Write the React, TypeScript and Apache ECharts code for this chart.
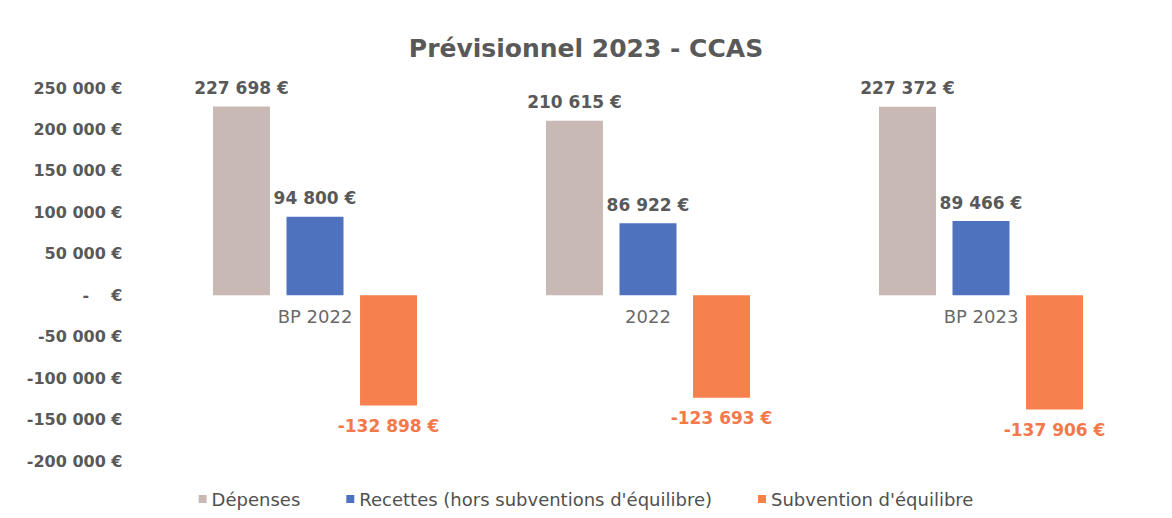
import React, { useEffect, useRef } from "react";
import * as echarts from "echarts";

const categories = ["BP 2022", "2022", "BP 2023"];
const depenses = [227698, 210615, 227372];
const recettes = [94800, 86922, 89466];
const subvention = [-132898, -123693, -137906];
const seriesNames = ["Dépenses", "Recettes (hors subventions d'équilibre)", "Subvention d'équilibre"];
const yMin = -200000;
const yMax = 250000;
const yInterval = 50000;

const fmt = (v: number) => {
  if (v === 0) return "-\u00a0\u00a0\u00a0\u00a0€";
  const neg = v < 0;
  const s = Math.abs(Math.round(v)).toString().replace(/\B(?=(\d{3})+(?!\d))/g, "\u00a0");
  return (neg ? "-" : "") + s + "\u00a0€";
};

const FONT = "'DejaVu Sans', Verdana, sans-serif";

export default function App() {
  const ref = useRef<HTMLDivElement>(null);
  useEffect(() => {
    if (!ref.current) return;
    const chart = echarts.init(ref.current, undefined, { renderer: "svg" });
    const labelGrey = {
      show: true,
      position: "top" as const,
      distance: 10,
      formatter: (p: any) => fmt(p.value),
      color: "#595959",
      fontFamily: FONT,
      fontWeight: "bold" as const,
      fontSize: 17,
    };
    chart.setOption({
      animation: false,
      textStyle: { fontFamily: FONT },
      title: {
        text: "Prévisionnel 2023 - CCAS",
        left: "center",
        top: 31,
        textStyle: { color: "#595959", fontSize: 25, fontWeight: "bold", fontFamily: FONT },
      },
      legend: {
        top: 485,
        left: "center",
        itemWidth: 8,
        itemHeight: 8,
        itemGap: 46,
        icon: "rect",
        textStyle: { color: "#505050", fontSize: 18, fontFamily: FONT },
        data: seriesNames,
      },
      grid: { left: 148.5, right: 24.5, top: 88, bottom: 57, containLabel: false },
      xAxis: {
        type: "category",
        data: categories,
        axisLine: { show: false },
        axisTick: { show: false },
        axisLabel: { show: false },
      },
      yAxis: {
        type: "value",
        min: yMin,
        max: yMax,
        interval: yInterval,
        axisLine: { show: false },
        axisTick: { show: false },
        splitLine: { show: false },
        axisLabel: {
          color: "#595959",
          fontSize: 16,
          fontWeight: "bold",
          margin: 26,
          fontFamily: FONT,
          formatter: (v: number) => fmt(v),
        },
      },
      series: [
        {
          name: seriesNames[0],
          type: "bar",
          data: depenses,
          barWidth: 57,
          barGap: "29%",
          itemStyle: { color: "#C9B9B4" },
          label: labelGrey,
        },
        {
          name: seriesNames[1],
          type: "bar",
          data: recettes,
          barWidth: 57,
          itemStyle: { color: "#4E72BE" },
          label: labelGrey,
        },
        {
          name: seriesNames[2],
          type: "bar",
          data: subvention,
          barWidth: 57,
          itemStyle: { color: "#F7814E" },
          label: {
            ...labelGrey,
            position: "bottom",
            distance: 12,
            color: "#F4784A",
          },
        },
        {
          name: "categoryLabels",
          type: "scatter",
          data: categories.map((c) => [c, 0]),
          symbolSize: 1,
          itemStyle: { color: "rgba(0,0,0,0)" },
          silent: true,
          z: 10,
          label: {
            show: true,
            position: "bottom",
            distance: 12,
            formatter: (p: any) => categories[p.dataIndex],
            color: "#404040",
            fontSize: 18,
            fontFamily: FONT,
          },
        },
      ],
    });
    return () => chart.dispose();
  }, []);
  return (
    <div
      ref={ref}
      style={{ position: "absolute", left: 0, top: 0, width: 1172, height: 518 }}
    />
  );
}
